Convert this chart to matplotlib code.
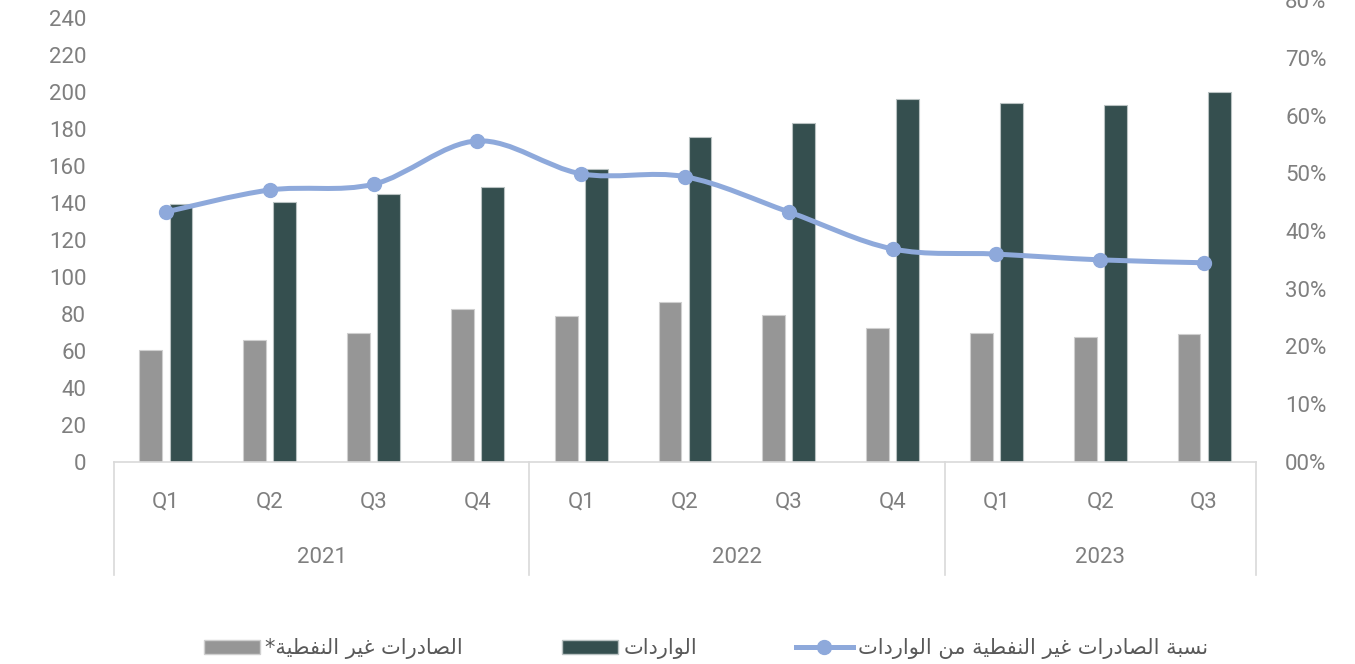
import matplotlib.pyplot as plt
from matplotlib.path import Path
from matplotlib.patches import PathPatch, Patch
from matplotlib.lines import Line2D
from matplotlib.ticker import FuncFormatter
import matplotlib.transforms as mtransforms

# Data
quarters = ['Q1', 'Q2', 'Q3', 'Q4', 'Q1', 'Q2', 'Q3', 'Q4', 'Q1', 'Q2', 'Q3']
years = ['2021', '2022', '2023']
year_sizes = [4, 4, 3]
non_oil_exports = [60.7, 66.1, 69.9, 82.9, 79.1, 86.7, 79.6, 72.6, 69.9, 67.7, 69.3]
imports = [139.8, 140.8, 145.2, 149.0, 158.3, 175.9, 183.3, 196.6, 194.3, 193.2, 200.4]
ratio = [0.433, 0.471, 0.481, 0.556, 0.499, 0.494, 0.433, 0.369, 0.360, 0.350, 0.345]

label_exports = 'الصادرات غير النفطية*'
label_imports = 'الواردات'
label_ratio = 'نسبة الصادرات غير النفطية من الواردات'

# Colours
c_gray = '#969696'
c_dark = '#354F4F'
c_line = '#8EA9DB'
c_text = '#7F7F7F'
c_axis = '#D9D9D9'

# Tiny Arabic shaper: (isolated, final, initial, medial) presentation forms
FORMS = {
    'ا': ('\uFE8D', '\uFE8E', None, None),
    'ب': ('\uFE8F', '\uFE90', '\uFE91', '\uFE92'),
    'ة': ('\uFE93', '\uFE94', None, None),
    'ت': ('\uFE95', '\uFE96', '\uFE97', '\uFE98'),
    'د': ('\uFEA9', '\uFEAA', None, None),
    'ر': ('\uFEAD', '\uFEAE', None, None),
    'س': ('\uFEB1', '\uFEB2', '\uFEB3', '\uFEB4'),
    'ص': ('\uFEB9', '\uFEBA', '\uFEBB', '\uFEBC'),
    'ط': ('\uFEC1', '\uFEC2', '\uFEC3', '\uFEC4'),
    'غ': ('\uFECD', '\uFECE', '\uFECF', '\uFED0'),
    'ف': ('\uFED1', '\uFED2', '\uFED3', '\uFED4'),
    'ل': ('\uFEDD', '\uFEDE', '\uFEDF', '\uFEE0'),
    'م': ('\uFEE1', '\uFEE2', '\uFEE3', '\uFEE4'),
    'ن': ('\uFEE5', '\uFEE6', '\uFEE7', '\uFEE8'),
    'و': ('\uFEED', '\uFEEE', None, None),
    'ي': ('\uFEF1', '\uFEF2', '\uFEF3', '\uFEF4'),
}


def shape(text):
    out = []
    for i, ch in enumerate(text):
        if ch not in FORMS:
            out.append(ch)
            continue
        prev = text[i - 1] if i > 0 else ''
        nxt = text[i + 1] if i + 1 < len(text) else ''
        iso, fin, ini, med = FORMS[ch]
        join_prev = prev in FORMS and FORMS[prev][2] is not None
        join_next = nxt in FORMS and ini is not None
        if join_prev and join_next:
            out.append(med)
        elif join_prev:
            out.append(fin)
        elif join_next:
            out.append(ini)
        else:
            out.append(iso)
    return ''.join(out)[::-1]  # visual order for RTL


plt.rcParams['font.family'] = ['Roboto', 'DejaVu Sans']

fig = plt.figure(figsize=(13.55, 6.64), dpi=100)
ax = fig.add_axes([114 / 1355, 1 - 462 / 664, (1256 - 114) / 1355, 462 / 664])
ax2 = ax.twinx()

x = list(range(len(quarters)))
bw = 0.22
off = 0.145
ax.bar([i - off for i in x], non_oil_exports, bw, color=c_gray, edgecolor='#cfcfcf', linewidth=0.8, zorder=2)
ax.bar([i + off for i in x], imports, bw, color=c_dark, edgecolor='#b9c2c2', linewidth=0.8, zorder=2)

# Smoothed line (Catmull-Rom as cubic Bezier), markers on the data points
pts = list(zip(x, ratio))
verts = [pts[0]]
codes = [Path.MOVETO]
for i in range(len(pts) - 1):
    p0 = pts[i - 1] if i > 0 else pts[i]
    p1 = pts[i]
    p2 = pts[i + 1]
    p3 = pts[i + 2] if i + 2 < len(pts) else pts[i + 1]
    c1 = (p1[0] + (p2[0] - p0[0]) / 6, p1[1] + (p2[1] - p0[1]) / 6)
    c2 = (p2[0] - (p3[0] - p1[0]) / 6, p2[1] - (p3[1] - p1[1]) / 6)
    verts += [c1, c2, p2]
    codes += [Path.CURVE4] * 3
ax2.add_patch(PathPatch(Path(verts, codes), facecolor='none', edgecolor=c_line,
                        linewidth=3.6, capstyle='round', zorder=3))
ax2.plot(x, ratio, ls='none', marker='o', markersize=10, color=c_line, zorder=4)

ax.set_xlim(-0.5, len(quarters) - 0.5)
ax.set_ylim(0, 250)
ax2.set_ylim(0, 0.8)
ax.set_yticks(range(0, 241, 20))
ax2.set_yticks([i / 10 for i in range(9)])
ax2.yaxis.set_major_formatter(FuncFormatter(lambda v, p: f'{v * 100:02.0f}%'))

for a in (ax, ax2):
    for s in a.spines.values():
        s.set_visible(False)
    a.tick_params(length=0, labelsize=16, labelcolor=c_text)
ax.tick_params(axis='y', pad=20)
ax2.tick_params(axis='y', pad=21)
ax.spines['bottom'].set_visible(True)
ax.spines['bottom'].set_color(c_axis)
ax.spines['bottom'].set_linewidth(1.2)
ax.set_xticks([])

# Two-level category axis
trans = mtransforms.blended_transform_factory(ax.transData, ax.transAxes)
for i, q in enumerate(quarters):
    ax.text(i, -0.087, q, transform=trans, ha='center', va='center', fontsize=16, color=c_text)
start = 0
bounds = [-0.5]
for yr, n in zip(years, year_sizes):
    ax.text(start + (n - 1) / 2, -0.206, yr, transform=trans, ha='center', va='center',
            fontsize=16, color=c_text)
    start += n
    bounds.append(start - 0.5)
for b in bounds:
    ax.add_line(Line2D([b, b], [0, -0.245], transform=trans, color=c_axis, lw=1.2, clip_on=False))

handles = [
    Patch(facecolor=c_gray, edgecolor='#cfcfcf'),
    Patch(facecolor=c_dark, edgecolor='#b9c2c2'),
    Line2D([], [], color=c_line, lw=3.6, marker='o', markersize=10),
]
labels = [shape(label_exports), shape(label_imports), shape(label_ratio)]
fig.legend(handles, labels, loc='center', bbox_to_anchor=(0.521, 0.023), ncol=3, frameon=False,
           prop={'family': 'DejaVu Sans', 'size': 15}, labelcolor='#595959',
           handlelength=2.7, handletextpad=0.25, columnspacing=4.75)

fig.savefig('out.png', dpi=100)
